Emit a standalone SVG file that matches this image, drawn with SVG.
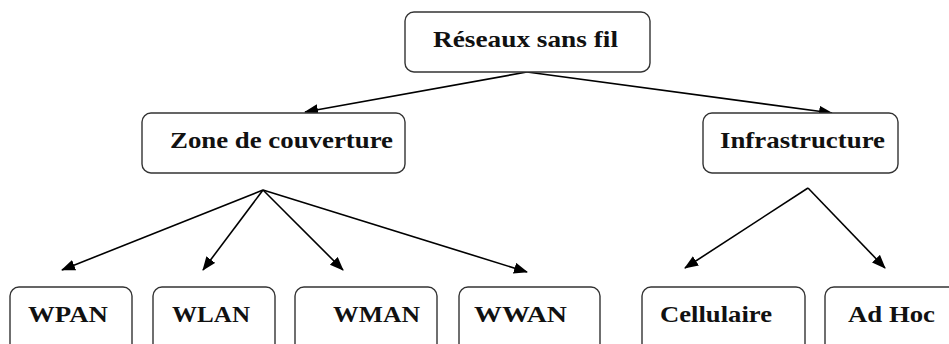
<svg xmlns="http://www.w3.org/2000/svg" width="949" height="344" viewBox="0 0 949 344">
  <defs>
    <marker id="arrow" markerUnits="userSpaceOnUse" markerWidth="14" markerHeight="12" refX="13" refY="5.5" orient="auto">
      <path d="M0,0 L14,5.5 L0,11 Z" fill="#000"/>
    </marker>
  </defs>
  <style>
    .box { fill: #fff; stroke: #333; stroke-width: 1.4; }
    .lbl { font-family: "Liberation Serif", "Times New Roman", serif; font-weight: bold; font-size: 23.5px; fill: #111; }
    .edge { stroke: #000; stroke-width: 1.6; fill: none; marker-end: url(#arrow); }
  </style>
  <rect width="949" height="344" fill="#fff"/>

  <g id="connectors">
    <line class="edge" x1="527" y1="72" x2="305" y2="112"/>
    <line class="edge" x1="527" y1="72" x2="832" y2="113"/>
    <line class="edge" x1="263" y1="190" x2="62" y2="270"/>
    <line class="edge" x1="263" y1="190" x2="203" y2="270"/>
    <line class="edge" x1="263" y1="190" x2="343" y2="270"/>
    <line class="edge" x1="263" y1="190" x2="527" y2="272"/>
    <line class="edge" x1="808" y1="188" x2="685" y2="268"/>
    <line class="edge" x1="808" y1="188" x2="885" y2="268"/>
  </g>

  <g id="reseaux">
    <rect class="box" x="405" y="12" width="245" height="60" rx="9"/>
    <text class="lbl" x="433" y="47" textLength="185" lengthAdjust="spacingAndGlyphs">Réseaux sans fil</text>
  </g>
  <g id="zone">
    <rect class="box" x="142" y="113" width="263" height="60" rx="9"/>
    <text class="lbl" x="170" y="148" textLength="223" lengthAdjust="spacingAndGlyphs">Zone de couverture</text>
  </g>
  <g id="infra">
    <rect class="box" x="703" y="113" width="195" height="60" rx="9"/>
    <text class="lbl" x="720" y="148" textLength="165" lengthAdjust="spacingAndGlyphs">Infrastructure</text>
  </g>
  <g id="wpan">
    <rect class="box" x="10" y="287" width="122" height="80" rx="9"/>
    <text class="lbl" x="28" y="322" textLength="80" lengthAdjust="spacingAndGlyphs">WPAN</text>
  </g>
  <g id="wlan">
    <rect class="box" x="153" y="287" width="122" height="80" rx="9"/>
    <text class="lbl" x="172" y="322" textLength="78" lengthAdjust="spacingAndGlyphs">WLAN</text>
  </g>
  <g id="wman">
    <rect class="box" x="295" y="287" width="142" height="80" rx="9"/>
    <text class="lbl" x="333" y="322" textLength="87" lengthAdjust="spacingAndGlyphs">WMAN</text>
  </g>
  <g id="wwan">
    <rect class="box" x="459" y="287" width="141" height="80" rx="9"/>
    <text class="lbl" x="474" y="322" textLength="93" lengthAdjust="spacingAndGlyphs">WWAN</text>
  </g>
  <g id="cellulaire">
    <rect class="box" x="642" y="287" width="163" height="80" rx="9"/>
    <text class="lbl" x="660" y="322" textLength="112" lengthAdjust="spacingAndGlyphs">Cellulaire</text>
  </g>
  <g id="adhoc">
    <rect class="box" x="825" y="287" width="140" height="80" rx="9"/>
    <text class="lbl" x="848" y="322" textLength="87" lengthAdjust="spacingAndGlyphs">Ad Hoc</text>
  </g>
</svg>
